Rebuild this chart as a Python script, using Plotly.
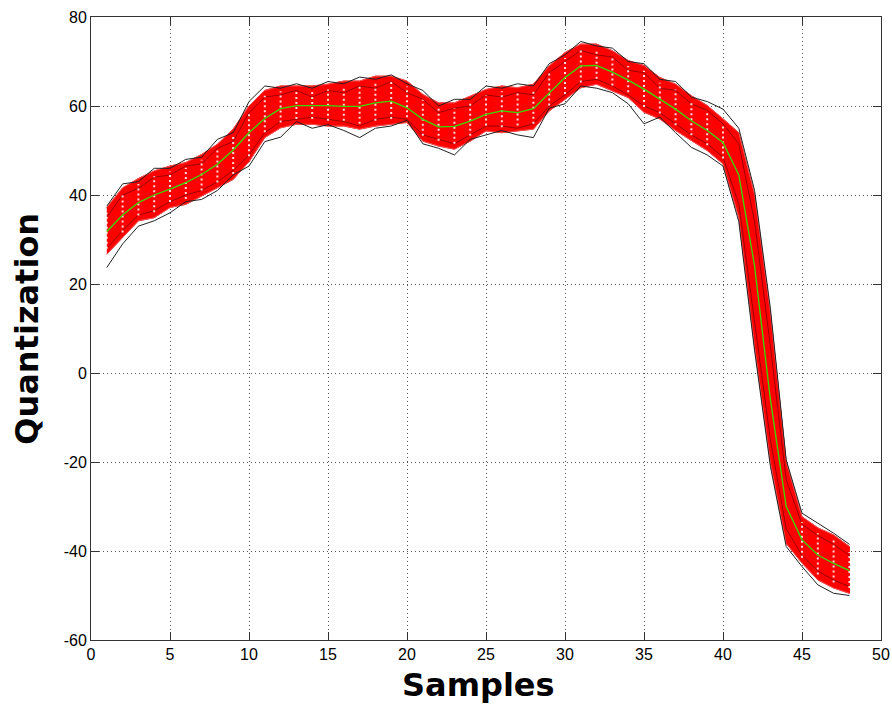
import plotly.graph_objects as go

samples = list(range(1, 49))

mean_curve = [31.8, 35.5, 38.3, 40.0, 41.3, 42.8, 44.6, 46.9, 50.1, 54.0,
              57.2, 59.4, 60.1, 60.1, 60.1, 59.9, 59.9, 60.7, 61.1, 59.6,
              57.0, 55.3, 55.4, 56.6, 58.1, 58.9, 58.5, 59.4, 63.0, 66.4,
              69.0, 69.1, 67.6, 65.8, 63.8, 61.6, 59.3, 56.7, 54.5, 51.8,
              44.5, 24.0, -6.0, -30.0, -37.5, -40.9, -42.8, -44.4]

red_hi = [37.2, 41.6, 43.7, 45.4, 46.5, 47.3, 49.1, 51.4, 54.8, 60.0,
          63.5, 64.5, 64.5, 64.5, 64.9, 65.6, 65.6, 66.7, 66.7, 65.6,
          62.6, 60.7, 60.7, 62.2, 63.7, 64.5, 64.1, 64.9, 69.0, 72.0,
          73.9, 73.9, 72.4, 70.2, 69.1, 66.4, 64.9, 62.3, 60.1, 57.1,
          54.0, 40.0, 13.5, -20.0, -32.3, -34.8, -36.4, -39.0]

red_lo = [26.7, 30.4, 34.2, 34.9, 37.2, 37.9, 39.8, 41.6, 43.5, 47.5,
          52.9, 55.1, 55.9, 55.9, 55.5, 55.5, 54.8, 55.5, 55.9, 56.3,
          52.1, 51.0, 50.3, 52.1, 54.4, 54.0, 54.4, 54.8, 58.9, 61.5,
          64.1, 64.9, 63.4, 61.9, 58.6, 57.1, 54.5, 52.2, 50.0, 47.0,
          35.0, 6.0, -20.0, -38.3, -42.7, -46.5, -48.3, -49.5]

black_hi = [37.5, 42.5, 43.0, 46.0, 46.0, 48.0, 48.5, 52.5, 54.0, 61.0,
            64.5, 64.0, 65.0, 64.0, 65.5, 65.0, 66.5, 66.0, 67.0, 65.0,
            63.5, 60.0, 61.5, 61.5, 64.5, 64.0, 65.0, 64.5, 69.5, 71.5,
            74.5, 73.5, 73.0, 70.0, 69.5, 66.0, 65.5, 62.0, 61.0, 59.3,
            55.0, 41.0, 14.5, -19.5, -31.5, -33.7, -36.0, -38.5]

black_lo = [23.7, 29.0, 33.0, 34.2, 36.0, 38.5, 39.0, 41.0, 44.5, 46.5,
            52.0, 53.0, 56.5, 55.0, 55.8, 54.5, 52.9, 55.0, 55.5, 56.8,
            51.5, 50.5, 49.0, 52.5, 53.5, 54.5, 53.5, 52.9, 59.5, 60.5,
            64.5, 64.0, 63.0, 60.5, 56.0, 57.5, 54.0, 50.7, 49.0, 46.5,
            34.0, 5.0, -21.0, -39.0, -43.5, -47.6, -49.5, -50.0]

dark_a = [35.0, 40.0, 41.5, 44.0, 44.5, 46.5, 47.0, 50.5, 52.0, 58.5,
          62.0, 62.5, 63.5, 62.0, 63.5, 63.0, 64.5, 64.0, 65.5, 63.0,
          61.5, 58.5, 59.5, 60.0, 62.5, 62.0, 63.0, 62.5, 67.5, 70.0,
          72.5, 71.5, 71.0, 68.0, 67.5, 64.0, 63.5, 60.5, 59.0, 56.0,
          51.5, 34.0, 6.0, -24.0, -34.0, -36.5, -38.5, -41.0]

dark_b = [28.0, 32.0, 35.5, 36.5, 38.5, 40.0, 41.0, 43.0, 45.5, 49.0,
          54.0, 56.5, 57.0, 57.5, 57.0, 56.5, 55.5, 57.0, 57.5, 57.0,
          53.5, 52.5, 51.5, 53.5, 55.5, 55.5, 55.0, 56.0, 60.0, 62.5,
          65.5, 66.0, 64.5, 62.5, 60.0, 58.5, 56.0, 53.5, 51.5, 48.5,
          38.0, 12.0, -15.0, -35.0, -41.0, -44.5, -46.5, -48.0]

dense_samples = [41, 42, 43, 44]

x_ticks = [0, 5, 10, 15, 20, 25, 30, 35, 40, 45, 50]
y_ticks = [-60, -40, -20, 0, 20, 40, 60, 80]

fig = go.Figure()

# red band of traces
fig.add_trace(go.Scatter(
    x=samples + samples[::-1], y=red_hi + red_lo[::-1],
    fill="toself", fillcolor="#ff0000", mode="lines",
    line=dict(color="#ff0000", width=1), hoverinfo="skip", showlegend=False))

# lighter edges of the red band
for arr in (red_hi, red_lo):
    fig.add_trace(go.Scatter(x=samples, y=arr, mode="lines",
                             line=dict(color="#f05050", width=1),
                             hoverinfo="skip", showlegend=False))

# dark inner traces
for arr in (dark_a, dark_b):
    fig.add_trace(go.Scatter(x=samples, y=arr, mode="lines",
                             line=dict(color="rgba(120,0,0,0.75)", width=1),
                             hoverinfo="skip", showlegend=False))

# white dotted columns at each sample
wx, wy = [], []
for s, lo, hi in zip(samples, red_lo, red_hi):
    if s in dense_samples:
        continue
    wx += [s, s, None]
    wy += [lo + 1.2, hi - 1.2, None]
fig.add_trace(go.Scatter(x=wx, y=wy, mode="lines",
                         line=dict(color="rgba(255,255,255,0.85)", width=2, dash="2px,3px"),
                         hoverinfo="skip", showlegend=False))

# black outer traces
for arr in (black_hi, black_lo):
    fig.add_trace(go.Scatter(x=samples, y=arr, mode="lines",
                             line=dict(color="#222222", width=1),
                             hoverinfo="skip", showlegend=False))

# mean curve
fig.add_trace(go.Scatter(x=samples, y=mean_curve, mode="lines",
                         line=dict(color="#33dd00", width=1.3),
                         hoverinfo="skip", showlegend=False))

axis_common = dict(
    showline=True, linecolor="#333333", linewidth=1, mirror="ticks",
    ticks="inside", ticklen=8, tickcolor="#333333",
    showgrid=True, gridcolor="#555555", griddash="1px,3px", gridwidth=1,
    zeroline=False, automargin=False,
    tickfont=dict(family="Liberation Sans, Arial, sans-serif", size=16, color="black"),
)

fig.update_xaxes(range=[0, 50], tickvals=x_ticks,
                 ticktext=[str(v) for v in x_ticks], **axis_common)
fig.update_yaxes(range=[-60, 80], tickvals=y_ticks,
                 ticktext=[str(v) for v in y_ticks], **axis_common)

fig.add_annotation(text="<b>Samples</b>", xref="paper", yref="paper",
                   x=0.49, y=-0.072, xanchor="center", yanchor="middle",
                   showarrow=False,
                   font=dict(family="DejaVu Sans", size=32, color="black"))
fig.add_annotation(text="<b>Quantization</b>", xref="paper", yref="paper",
                   x=-0.082, y=0.5, xanchor="center", yanchor="middle",
                   textangle=-90, showarrow=False,
                   font=dict(family="DejaVu Sans", size=32, color="black"))

fig.update_layout(
    width=892, height=707,
    margin=dict(l=91, r=11, t=17, b=67),
    plot_bgcolor="white", paper_bgcolor="white",
)

fig.write_html("out.html", config={"displayModeBar": False},
               post_script="document.body.style.margin='0px';document.body.style.overflow='hidden';")
